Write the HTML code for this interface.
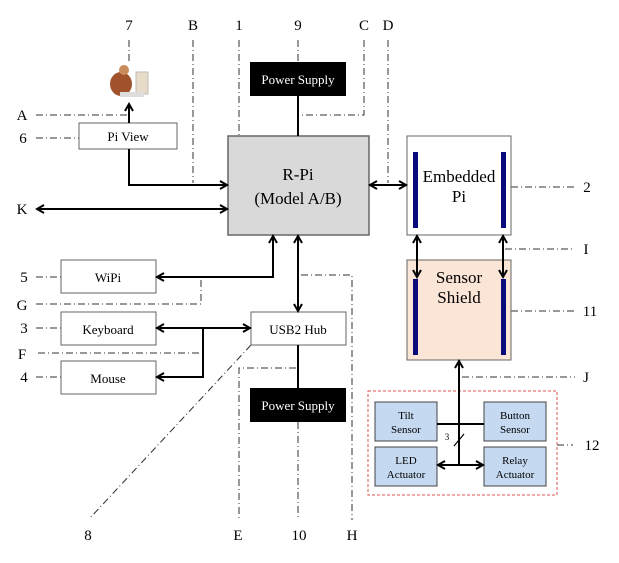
<!DOCTYPE html>
<html><head><style>
html,body{margin:0;padding:0;background:#fff;}
svg{display:block;font-family:"Liberation Serif",serif;}
</style></head><body>
<svg width="619" height="563" viewBox="0 0 619 563" xmlns="http://www.w3.org/2000/svg">
<defs>
<marker id="a" markerWidth="10" markerHeight="10" refX="8" refY="5" orient="auto-start-reverse" markerUnits="userSpaceOnUse">
<path d="M1,1 L8,5 L1,9" fill="none" stroke="#000" stroke-width="2"/>
</marker>
</defs>
<g stroke="#333" stroke-width="1" stroke-dasharray="7,3,1,3" fill="none">
<line x1="129" y1="40" x2="129" y2="62"/>
<line x1="193" y1="40" x2="193" y2="183"/>
<line x1="239" y1="40" x2="239" y2="136"/>
<line x1="298" y1="40" x2="298" y2="62"/>
<polyline points="364,40 364,115 302,115"/>
<line x1="388" y1="40" x2="388" y2="183"/>
<line x1="36" y1="115" x2="127" y2="115"/>
<line x1="36" y1="138" x2="79" y2="138"/>
<line x1="511" y1="187" x2="575" y2="187"/>
<line x1="505" y1="249" x2="575" y2="249"/>
<line x1="511" y1="311" x2="575" y2="311"/>
<line x1="462" y1="377" x2="575" y2="377"/>
<line x1="557" y1="445" x2="573" y2="445"/>
<line x1="36" y1="277" x2="61" y2="277"/>
<line x1="36" y1="328" x2="61" y2="328"/>
<line x1="36" y1="377" x2="61" y2="377"/>
<polyline points="36,304 201,304 201,277"/>
<line x1="38" y1="353" x2="200" y2="353"/>
<polyline points="296,368 239,368 239,520"/>
<polyline points="301,275 352,275 352,520"/>
<line x1="298" y1="422" x2="298" y2="520"/>
<line x1="251" y1="345" x2="90" y2="518"/>
</g>
<!-- person icon -->
<g>
<ellipse cx="121" cy="84" rx="11" ry="12" fill="#a0522d"/>
<circle cx="124" cy="70" r="5" fill="#c98b5a"/>
<rect x="136" y="72" width="12" height="22" fill="#e8dcc8" stroke="#bbb"/>
<rect x="120" y="92" width="24" height="5" fill="#ddd"/>
</g>
<!-- boxes -->
<rect x="228" y="136" width="141" height="99" fill="#d9d9d9" stroke="#666" stroke-width="1.5"/>
<rect x="250" y="62" width="96" height="34" fill="#000"/>
<rect x="250" y="388" width="96" height="34" fill="#000"/>
<rect x="79" y="123" width="98" height="26" fill="#fff" stroke="#666"/>
<rect x="407" y="136" width="104" height="99" fill="#fff" stroke="#666"/>
<rect x="407" y="260" width="104" height="100" fill="#fbe5d6" stroke="#666"/>
<rect x="413" y="152" width="5" height="76" fill="#0a0a7a"/>
<rect x="501" y="152" width="5" height="76" fill="#0a0a7a"/>
<rect x="413" y="279" width="5" height="76" fill="#0a0a7a"/>
<rect x="501" y="279" width="5" height="76" fill="#0a0a7a"/>
<rect x="61" y="260" width="95" height="33" fill="#fff" stroke="#666"/>
<rect x="61" y="312" width="95" height="33" fill="#fff" stroke="#666"/>
<rect x="61" y="361" width="95" height="33" fill="#fff" stroke="#666"/>
<rect x="251" y="312" width="95" height="33" fill="#fff" stroke="#666"/>
<rect x="368" y="391" width="189" height="104" fill="none" stroke="#d9534f" stroke-dasharray="3,2"/>
<rect x="375" y="402" width="62" height="39" fill="#c5d9f1" stroke="#444"/>
<rect x="484" y="402" width="62" height="39" fill="#c5d9f1" stroke="#444"/>
<rect x="375" y="447" width="62" height="39" fill="#c5d9f1" stroke="#444"/>
<rect x="484" y="447" width="62" height="39" fill="#c5d9f1" stroke="#444"/>
<!-- connectors -->
<g stroke="#000" stroke-width="2" fill="none">
<line x1="298" y1="96" x2="298" y2="136"/>
<line x1="129" y1="123" x2="129" y2="104" marker-end="url(#a)"/>
<polyline points="129,149 129,185 227,185" marker-end="url(#a)"/>
<line x1="37" y1="209" x2="227" y2="209" marker-start="url(#a)" marker-end="url(#a)"/>
<line x1="370" y1="185" x2="406" y2="185" marker-start="url(#a)" marker-end="url(#a)"/>
<line x1="417" y1="236" x2="417" y2="277" marker-start="url(#a)" marker-end="url(#a)"/>
<line x1="503" y1="236" x2="503" y2="277" marker-start="url(#a)" marker-end="url(#a)"/>
<polyline points="459,465 459,361" marker-end="url(#a)"/>
<line x1="437" y1="424" x2="484" y2="424"/>
<line x1="438" y1="465" x2="483" y2="465" marker-start="url(#a)" marker-end="url(#a)"/>
<line x1="454" y1="446" x2="464" y2="434" stroke-width="1.2"/>
<polyline points="273,236 273,277 157,277" marker-start="url(#a)" marker-end="url(#a)"/>
<line x1="298" y1="236" x2="298" y2="311" marker-start="url(#a)" marker-end="url(#a)"/>
<line x1="157" y1="328" x2="250" y2="328" marker-start="url(#a)" marker-end="url(#a)"/>
<polyline points="203,328 203,377 157,377" marker-end="url(#a)"/>
<line x1="298" y1="345" x2="298" y2="388"/>
</g>
<!-- text -->
<g font-size="15" text-anchor="middle" fill="#000">
<text x="129" y="30">7</text><text x="193" y="30">B</text><text x="239" y="30">1</text>
<text x="298" y="30">9</text><text x="364" y="30">C</text><text x="388" y="30">D</text>
<text x="22" y="120">A</text><text x="23" y="143">6</text><text x="22" y="214">K</text>
<text x="24" y="282">5</text><text x="22" y="310">G</text><text x="24" y="333">3</text>
<text x="22" y="359">F</text><text x="24" y="382">4</text>
<text x="587" y="192">2</text><text x="586" y="254">I</text><text x="590" y="316">11</text>
<text x="586" y="382">J</text><text x="592" y="450">12</text>
<text x="88" y="540">8</text><text x="238" y="540">E</text><text x="299" y="540">10</text><text x="352" y="540">H</text>
</g>
<g font-size="13" text-anchor="middle">
<text x="298" y="84" fill="#fff">Power Supply</text>
<text x="298" y="410" fill="#fff">Power Supply</text>
<text x="128" y="141">Pi View</text>
<text x="108" y="282">WiPi</text>
<text x="108" y="334">Keyboard</text>
<text x="108" y="383">Mouse</text>
<text x="298" y="334">USB2 Hub</text>
</g>
<g font-size="17" text-anchor="middle">
<text x="298" y="180">R-Pi</text>
<text x="298" y="204">(Model A/B)</text>
<text x="459" y="182">Embedded</text>
<text x="459" y="202">Pi</text>
<text x="459" y="283">Sensor</text>
<text x="459" y="303">Shield</text>
</g>
<g font-size="11" text-anchor="middle">
<text x="406" y="419">Tilt</text><text x="406" y="433">Sensor</text>
<text x="515" y="419">Button</text><text x="515" y="433">Sensor</text>
<text x="406" y="464">LED</text><text x="406" y="478">Actuator</text>
<text x="515" y="464">Relay</text><text x="515" y="478">Actuator</text>
<text x="447" y="440" font-size="9">3</text>
</g>
</svg>
</body></html>
